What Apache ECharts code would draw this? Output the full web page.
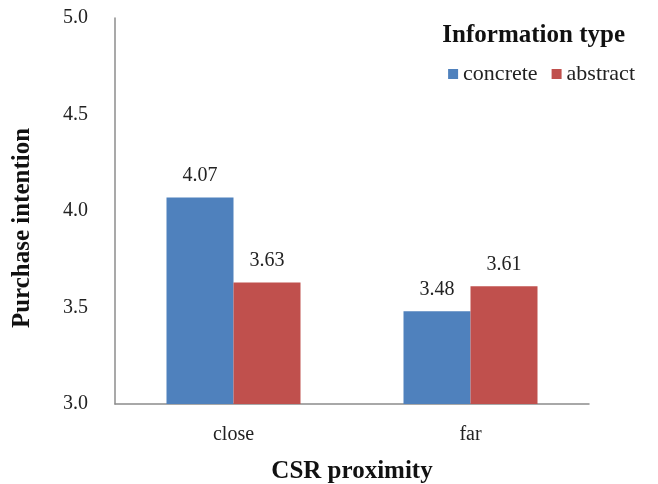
<!DOCTYPE html>
<html><head><meta charset="utf-8">
<script src="https://cdn.jsdelivr.net/npm/echarts@6/dist/echarts.min.js"></script>
<style>html,body{margin:0;padding:0;background:#fff}#c{width:658px;height:484px}</style>
</head><body><div id="c"></div>
<script>
var categories = ['close', 'far'];
var seriesNames = ['concrete', 'abstract'];
var concreteValues = [4.07, 3.48];
var abstractValues = [3.63, 3.61];
var yTicks = [3.0, 3.5, 4.0, 4.5, 5.0];

var F = '"Liberation Serif", "Times New Roman", serif';
var chart = echarts.init(document.getElementById('c'));
var label = {show: true, position: 'top', distance: 12, fontFamily: F, fontSize: 20, color: '#222',
  formatter: function (p) { return p.value.toFixed(2); }};
chart.setOption({
  animation: false,
  title: {text: 'Information type', right: 28, top: 18,
    textStyle: {fontFamily: F, fontSize: 25, fontWeight: 'bold', color: '#111'}},
  legend: {data: seriesNames, right: 18, top: 58, itemWidth: 10, itemHeight: 10, itemGap: 14,
    icon: 'rect', textStyle: {fontFamily: F, fontSize: 22, color: '#222'}},
  grid: {left: 115, right: 69, top: 18, bottom: 80, outerBoundsMode: 'none', containLabel: false},
  xAxis: {type: 'category', data: categories, name: 'CSR proximity', nameLocation: 'middle', nameGap: 55,
    nameTextStyle: {fontFamily: F, fontSize: 25, fontWeight: 'bold', color: '#111'},
    axisLine: {lineStyle: {color: '#8c8c8c', width: 1.5}}, axisTick: {show: false},
    axisLabel: {fontFamily: F, fontSize: 20, color: '#222', margin: 21}},
  yAxis: {type: 'value', min: yTicks[0], max: yTicks[yTicks.length - 1], interval: 0.5,
    name: 'Purchase intention', nameLocation: 'middle', nameGap: 80, nameRotate: 90,
    nameTextStyle: {fontFamily: F, fontSize: 25, fontWeight: 'bold', color: '#111', padding: [0, 34, 0, 0]},
    axisLine: {show: true, lineStyle: {color: '#8c8c8c', width: 1.5}}, axisTick: {show: false},
    splitLine: {show: false},
    axisLabel: {fontFamily: F, fontSize: 20, color: '#222', margin: 27,
      formatter: function (v) { return v.toFixed(1); }}},
  series: [
    {name: seriesNames[0], type: 'bar', data: concreteValues, barWidth: 67, barGap: '0%',
      itemStyle: {color: '#4F81BD'}, label: label},
    {name: seriesNames[1], type: 'bar', data: abstractValues, barWidth: 67, barGap: '0%',
      itemStyle: {color: '#C0504D'}, label: label}
  ]
});
</script></body></html>
